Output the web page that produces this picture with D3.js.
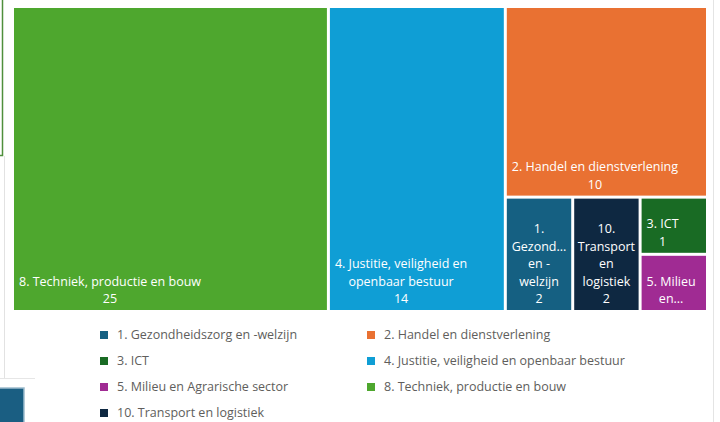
<!DOCTYPE html>
<html><head><meta charset="utf-8">
<script src="https://cdn.jsdelivr.net/npm/d3@7"></script>
<style>body{margin:0;background:#fff}svg{display:block}</style>
</head><body>
<svg id="chart" width="720" height="422"></svg>
<script>
// ---- data ----
const categories = [
  "8. Techniek, productie en bouw",
  "4. Justitie, veiligheid en openbaar bestuur",
  "2. Handel en dienstverlening",
  "1. Gezondheidszorg en -welzijn",
  "10. Transport en logistiek",
  "3. ICT",
  "5. Milieu en Agrarische sector"
];
const values = [25, 14, 10, 2, 2, 1, 1];
const legendLabels = [
  "1. Gezondheidszorg en -welzijn",
  "2. Handel en dienstverlening",
  "3. ICT",
  "4. Justitie, veiligheid en openbaar bestuur",
  "5. Milieu en Agrarische sector",
  "8. Techniek, productie en bouw",
  "10. Transport en logistiek"
];
const colorMap = {
  "1. Gezondheidszorg en -welzijn": "#156082",
  "2. Handel en dienstverlening": "#E97132",
  "3. ICT": "#196B24",
  "4. Justitie, veiligheid en openbaar bestuur": "#0F9ED5",
  "5. Milieu en Agrarische sector": "#A02B93",
  "8. Techniek, productie en bouw": "#4EA72E",
  "10. Transport en logistiek": "#0E2841"
};

const FONT = "'Segoe UI', 'Open Sans', sans-serif";
const LABEL_SIZE = 12.5;
const LEGEND_SIZE = 12.5;
const LH = 17.5;

const svg = d3.select("#chart");
const color = d3.scaleOrdinal().domain(legendLabels).range(legendLabels.map(k => colorMap[k]));

// ---- decorative frame remnants of the screenshot ----
svg.append("path").attr("d", "M2.5,0V155.5H0").attr("fill", "none").attr("stroke", "#4f8f3c").attr("stroke-width", 1.5);
svg.append("line").attr("x1", 4.5).attr("x2", 4.5).attr("y1", 156).attr("y2", 378).attr("stroke", "#e2e2e2");
svg.append("line").attr("x1", 0).attr("x2", 35).attr("y1", 378.5).attr("y2", 378.5).attr("stroke", "#e6e6e6");
svg.append("rect").attr("x", -2).attr("y", 388).attr("width", 26).attr("height", 40).attr("fill", "#1A5E82").attr("stroke", "#9dbccd").attr("stroke-width", 1.5);
svg.append("line").attr("x1", 713.5).attr("x2", 713.5).attr("y1", 0).attr("y2", 422).attr("stroke", "#e4e4e4");

// ---- treemap ----
function stripTile(parent, x0, y0, x1, y1) {
  let remaining = parent.value;
  const nodes = parent.children;
  nodes.forEach((n, i) => {
    const dx = x1 - x0, dy = y1 - y0;
    const k = i === nodes.length - 1 ? 1 : (remaining ? n.value / remaining : 0);
    if (dx >= dy) { n.x0 = x0; n.y0 = y0; n.y1 = y1; n.x1 = (x0 += dx * k); }
    else { n.x0 = x0; n.x1 = x1; n.y0 = y0; n.y1 = (y0 += dy * k); }
    remaining -= n.value;
  });
}

const root = d3.hierarchy({ children: categories.map((c, i) => ({ name: c, value: values[i] })) })
  .sum(d => d.value || 0);
d3.treemap().size([692, 302]).paddingInner(3).tile(stripTile)(root);

const g = svg.append("g").attr("transform", "translate(14,8)");

const ctx = document.createElement("canvas").getContext("2d");
function measure(t) { ctx.font = LABEL_SIZE + "px " + FONT; return ctx.measureText(t).width; }

function fitWord(w, avail) {
  if (measure(w) <= avail) return w;
  let s = w;
  while (s.length > 1 && measure(s + "...") > avail) s = s.slice(0, -1);
  return s + "...";
}

function wrap(text, avail) {
  const tokens = [];
  text.split(" ").forEach(word => {
    const parts = word.split(/(?<=-)/);
    parts.forEach((p, j) => tokens.push({ t: p, sep: j === 0 ? " " : "" }));
  });
  const lines = [];
  let cur = "";
  tokens.forEach(tok => {
    if (cur === "") { cur = tok.t; return; }
    const trial = cur + tok.sep + tok.t;
    if (measure(trial) <= avail) cur = trial;
    else { lines.push(cur); cur = tok.t; }
  });
  if (cur !== "") lines.push(cur);
  return lines.map(l => fitWord(l, avail));
}

const leaves = root.leaves();
const cell = g.selectAll("g.cell").data(leaves).join("g").attr("class", "cell");
cell.append("rect")
  .attr("x", d => d.x0).attr("y", d => d.y0)
  .attr("width", d => d.x1 - d.x0).attr("height", d => d.y1 - d.y0)
  .attr("fill", d => color(d.data.name));

cell.each(function(d) {
  const w = d.x1 - d.x0, h = d.y1 - d.y0;
  const pad = w < 100 ? 2.5 : 5;
  const avail = w - 2 * pad;
  let lines = wrap(d.data.name, avail).concat([String(d.data.value)]);
  const maxLines = Math.max(1, Math.floor((h - 6) / LH));
  if (lines.length > maxLines) {
    lines = lines.slice(0, maxLines);
    let last = lines[maxLines - 1];
    while (last.length > 1 && measure(last + "...") > avail) last = last.slice(0, -1);
    lines[maxLines - 1] = last + "...";
  }
  const bw = d3.max(lines, measure);
  const left = Math.min(5, (w - bw) / 2);
  const cx = d.x0 + left + bw / 2;
  const lastBase = d.y1 - 7;
  const t = d3.select(this).append("text")
    .attr("font-family", FONT).attr("font-size", LABEL_SIZE)
    .attr("fill", "#ffffff").attr("text-anchor", "middle");
  lines.forEach((l, i) => {
    t.append("tspan").attr("x", cx).attr("y", lastBase - (lines.length - 1 - i) * LH).text(l);
  });
});

// ---- legend ----
const legend = svg.append("g");
const colX = d3.scalePoint().domain([0, 1]).range([100, 367]);
const rowY = d3.scaleLinear().domain([0, 1]).range([335, 361]);
legendLabels.forEach((lab, i) => {
  const c = i % 2, r = Math.floor(i / 2);
  const x = colX(c), y = rowY(r);
  legend.append("rect").attr("x", x).attr("y", y - 4).attr("width", 8).attr("height", 8).attr("fill", color(lab));
  legend.append("text").attr("x", x + 17).attr("y", y).attr("dy", "0.35em")
    .attr("font-family", FONT).attr("font-size", LEGEND_SIZE).attr("fill", "#605E5C").text(lab);
});
</script>
</body></html>
